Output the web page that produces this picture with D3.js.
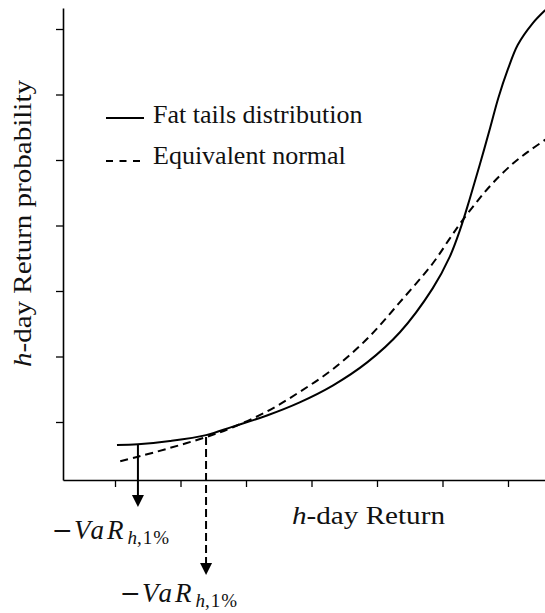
<!DOCTYPE html>
<html><head><meta charset="utf-8">
<script src="https://cdn.jsdelivr.net/npm/d3@7"></script>
<style>html,body{margin:0;padding:0;background:#fff;} svg{display:block;}</style>
</head><body><svg id="c" width="545" height="613"></svg>
<script>
// ---- data ----
const fatX  = [0.03,0.35,0.84,1.39,1.80,2.32,2.82,3.33,3.85,4.35,4.85,5.11,5.27,5.42,5.57,5.73,5.85,6.00,6.15,6.37,6.57];
const fatY  = [-0.35,-0.34,-0.29,-0.20,-0.07,0.10,0.30,0.56,0.91,1.37,2.04,2.52,2.94,3.42,3.93,4.50,4.94,5.39,5.76,6.08,6.29];
const normX = [0.08,0.35,0.79,1.39,1.80,2.32,2.82,3.33,3.85,4.35,4.85,5.11,5.27,5.53,5.77,6.08,6.34,6.57];
const normY = [-0.60,-0.53,-0.41,-0.23,-0.08,0.16,0.46,0.81,1.27,1.83,2.42,2.80,3.03,3.37,3.65,3.95,4.15,4.31];
const xTicks = [0,1,2,3,4,5,6];
const yTicks = [0,1,2,3,4,5,6];
const varFat = 0.35;      // -VaR under fat tails
const varNormal = 1.39;   // -VaR under equivalent normal
const seriesNames = ["Fat tails distribution", "Equivalent normal"];
const xLabelText = ["h", "-day Return"];
const yLabelText = ["h", "-day Return probability"];

// ---- layout ----
const svg = d3.select("#c");
const x = d3.scaleLinear().domain([-0.794, 6.565]).range([63, 545]);
const y = d3.scaleLinear().domain([-0.8855, 6.3206]).range([480, 8]);
const serif = "'Liberation Serif', 'Times New Roman', serif";
const ink = "#111";

// axes
const gx = svg.append("g").attr("transform", `translate(0,${y.range()[0]})`)
  .call(d3.axisBottom(x).tickValues(xTicks).tickSize(7).tickSizeOuter(0).tickFormat(""));
const gy = svg.append("g").attr("transform", `translate(${x.range()[0]},0)`)
  .call(d3.axisLeft(y).tickValues(yTicks).tickSize(7).tickSizeOuter(0).tickFormat(""));
[gx, gy].forEach(g => {
  g.select(".domain").attr("stroke", "#000").attr("stroke-width", 1.6);
  g.selectAll(".tick line").attr("stroke", "#000").attr("stroke-width", 1.3);
});

// curves
const line = d3.line().x(d => x(d[0])).y(d => y(d[1])).curve(d3.curveCatmullRom.alpha(0.5));
const fat = fatX.map((v, i) => [v, fatY[i]]);
const norm = normX.map((v, i) => [v, normY[i]]);
svg.append("path").datum(norm).attr("d", line).attr("fill", "none")
  .attr("stroke", "#000").attr("stroke-width", 2).attr("stroke-dasharray", "8,5");
svg.append("path").datum(fat).attr("d", line).attr("fill", "none")
  .attr("stroke", "#000").attr("stroke-width", 2);

// interpolate a series value at a given x
function valAt(xs, ys, v) {
  for (let i = 0; i < xs.length - 1; i++) {
    if (v >= xs[i] && v <= xs[i+1]) {
      const t = (v - xs[i]) / (xs[i+1] - xs[i]);
      return ys[i] + t * (ys[i+1] - ys[i]);
    }
  }
  return ys[0];
}

// VaR arrows
const axisY = y.range()[0];
const arrows = [
  { v: varFat, start: valAt(fatX, fatY, varFat), tip: axisY + 27, dash: null, labelY: 539 },
  { v: varNormal, start: valAt(normX, normY, varNormal), tip: axisY + 95, dash: "8,4", labelY: 602 }
];
const headH = 12, headW = 6;
arrows.forEach(a => {
  const px = x(a.v);
  const st = svg.append("line").attr("x1", px).attr("x2", px)
    .attr("y1", y(a.start)).attr("y2", a.tip - headH + 1)
    .attr("stroke", "#000").attr("stroke-width", 2);
  if (a.dash) st.attr("stroke-dasharray", a.dash);
  svg.append("path")
    .attr("d", `M${px - headW},${a.tip - headH} L${px + headW},${a.tip - headH} L${px},${a.tip} Z`)
    .attr("fill", "#000");
  const t = svg.append("text").attr("x", px - 86).attr("y", a.labelY)
    .attr("font-family", serif).attr("fill", ink);
  t.append("tspan").attr("font-family", "'DejaVu Serif', serif").attr("font-size", 25)
    .attr("font-weight", 300).text("\u2212");
  t.append("tspan").attr("font-size", 27).attr("font-style", "italic").attr("dx", 1)
    .attr("letter-spacing", 3).text("VaR");
  t.append("tspan").attr("font-size", 19).attr("font-style", "italic").attr("dy", 5)
    .attr("dx", 1).text("h");
  t.append("tspan").attr("font-size", 19).attr("letter-spacing", 1).text(",1%");
});

// axis titles
const xl = svg.append("text").attr("x", 292).attr("y", 524)
  .attr("font-family", serif).attr("font-size", 26).attr("fill", ink)
  .attr("textLength", 153).attr("lengthAdjust", "spacingAndGlyphs");
xl.append("tspan").attr("font-style", "italic").text(xLabelText[0]);
xl.append("tspan").text(xLabelText[1]);

const yl = svg.append("text").attr("transform", `translate(31,367) rotate(-90)`)
  .attr("font-family", serif).attr("font-size", 26).attr("fill", ink)
  .attr("textLength", 287).attr("lengthAdjust", "spacingAndGlyphs");
yl.append("tspan").attr("font-style", "italic").text(yLabelText[0]);
yl.append("tspan").text(yLabelText[1]);

// legend
const legend = svg.append("g");
const legY = [118, 161];
seriesNames.forEach((name, i) => {
  const l = legend.append("line").attr("x1", 106).attr("x2", 144)
    .attr("y1", legY[i]).attr("y2", legY[i])
    .attr("stroke", "#000").attr("stroke-width", i === 0 ? 2 : 1.8);
  if (i === 1) l.attr("stroke-dasharray", "7,6.5");
  legend.append("text").attr("x", 153).attr("y", legY[i] + (i === 0 ? 5 : 3))
    .attr("font-family", serif).attr("font-size", 26).attr("fill", ink).text(name);
});
</script>
</body></html>
